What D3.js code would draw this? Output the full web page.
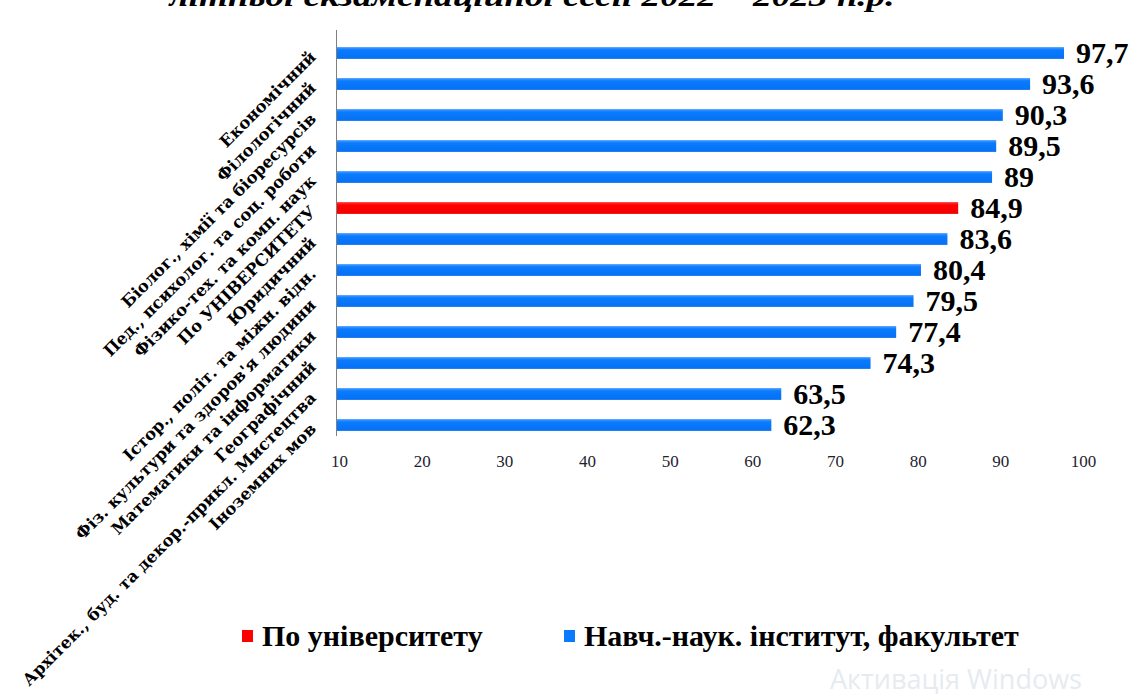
<!DOCTYPE html>
<html>
<head>
<meta charset="utf-8">
<script src="https://cdn.jsdelivr.net/npm/d3@7"></script>
<style>
  html, body { margin: 0; padding: 0; background: #fff; }
  svg { display: block; }
</style>
</head>
<body>
<svg id="chart" width="1145" height="697"></svg>
<script>
// ---- data ----
const categories = [
  "Економічний",
  "Філологічний",
  "Біолог., хімії та біоресурсів",
  "Пед., психолог. та соц. роботи",
  "Фізико-тех. та комп. наук",
  "По УНІВЕРСИТЕТУ",
  "Юридичний",
  "Істор., політ. та міжн. відн.",
  "Фіз. культури та здоров'я людини",
  "Математики та інформатики",
  "Географічний",
  "Архітек., буд. та декор.-прикл. Мистецтва",
  "Іноземних мов"
];
const values = [97.7, 93.6, 90.3, 89.5, 89, 84.9, 83.6, 80.4, 79.5, 77.4, 74.3, 63.5, 62.3];
const seriesOf = ["inst","inst","inst","inst","inst","univ","inst","inst","inst","inst","inst","inst","inst"];
const tickValues = [10, 20, 30, 40, 50, 60, 70, 80, 90, 100];
const legendLabels = ["По університету", "Навч.-наук. інститут, факультет"];
const titleText = "літньої екзаменаційної сесії 2022 – 2023 н.р.";

const svg = d3.select("#chart");
const serif = "'Liberation Serif', 'DejaVu Serif', serif";
const wideSerif = "'DejaVu Serif', 'Liberation Serif', serif";

// gradients
const defs = svg.append("defs");
const gb = defs.append("linearGradient").attr("id", "gBlue").attr("x1", 0).attr("x2", 0).attr("y1", 0).attr("y2", 1);
gb.append("stop").attr("offset", "0%").attr("stop-color", "#4a9dff");
gb.append("stop").attr("offset", "25%").attr("stop-color", "#0a7bff");
gb.append("stop").attr("offset", "100%").attr("stop-color", "#0670f2");
const gr = defs.append("linearGradient").attr("id", "gRed").attr("x1", 0).attr("x2", 0).attr("y1", 0).attr("y2", 1);
gr.append("stop").attr("offset", "0%").attr("stop-color", "#ff3a3a");
gr.append("stop").attr("offset", "25%").attr("stop-color", "#ff0000");
gr.append("stop").attr("offset", "100%").attr("stop-color", "#f20000");

const color = { inst: "url(#gBlue)", univ: "url(#gRed)" };

// scales
const x = d3.scaleLinear().domain([10, 100]).range([339, 1083]);
const y = d3.scaleBand().domain(categories).range([37.5, 440.5]).paddingInner(0.62).paddingOuter(0.31);
const axisX = 336;

// title (clipped at top, as in the source image)
svg.append("text")
  .attr("x", 532).attr("y", 6)
  .attr("text-anchor", "middle")
  .attr("font-family", serif)
  .attr("font-weight", "bold")
  .attr("font-style", "italic")
  .attr("font-size", 30)
  .attr("textLength", 725)
  .attr("lengthAdjust", "spacingAndGlyphs")
  .attr("fill", "#000")
  .text(titleText);

// bars
const data = categories.map((c, i) => ({ c, v: values[i], s: seriesOf[i] }));
svg.append("g").selectAll("rect").data(data).join("rect")
  .attr("x", axisX)
  .attr("y", d => y(d.c))
  .attr("width", d => x(d.v) - axisX)
  .attr("height", y.bandwidth())
  .attr("fill", d => color[d.s]);

// vertical axis line
svg.append("line")
  .attr("x1", axisX + 0.5).attr("x2", axisX + 0.5)
  .attr("y1", 30).attr("y2", 436)
  .attr("stroke", "#7f7f7f").attr("stroke-width", 1);

// category labels
svg.append("g").selectAll("text").data(data).join("text")
  .attr("transform", d => `translate(317,${y(d.c) + y.bandwidth() / 2 + 5}) rotate(-45)`)
  .attr("text-anchor", "end")
  .attr("font-family", wideSerif)
  .attr("font-weight", "bold")
  .attr("font-size", 16.5)
  .attr("fill", "#000")
  .text(d => d.c);

// value labels
const fmt = v => String(v).replace(".", ",");
svg.append("g").selectAll("text").data(data).join("text")
  .attr("x", d => x(d.v) + 12)
  .attr("y", d => y(d.c) + y.bandwidth() / 2 + 10)
  .attr("font-family", serif)
  .attr("font-weight", "bold")
  .attr("font-size", 30)
  .attr("fill", "#000")
  .text(d => fmt(d.v));

// x axis tick labels
const xAxis = d3.axisBottom(x).tickValues(tickValues).tickSize(0).tickPadding(0);
const gx = svg.append("g").attr("transform", "translate(0,455)").call(xAxis);
gx.select(".domain").remove();
gx.selectAll("text")
  .attr("font-family", serif)
  .attr("font-size", 17)
  .attr("fill", "#1e2230");

// legend
const legend = [
  { label: legendLabels[0], fill: "#ff0000", x: 242 },
  { label: legendLabels[1], fill: "#0a7bff", x: 564 }
];
const lg = svg.append("g").selectAll("g").data(legend).join("g")
  .attr("transform", d => `translate(${d.x},630)`);
lg.append("rect").attr("width", 11).attr("height", 12).attr("fill", d => d.fill);
lg.append("text")
  .attr("x", 20).attr("y", 16)
  .attr("font-family", serif)
  .attr("font-weight", "bold")
  .attr("font-size", 30)
  .attr("fill", "#000")
  .text(d => d.label);

// watermark
svg.append("text")
  .attr("x", 830).attr("y", 689)
  .attr("font-family", "'Open Sans', 'Noto Sans', sans-serif")
  .attr("font-size", 27)
  .attr("fill", "#e6ebf0")
  .text("Активація Windows");
</script>
</body>
</html>
